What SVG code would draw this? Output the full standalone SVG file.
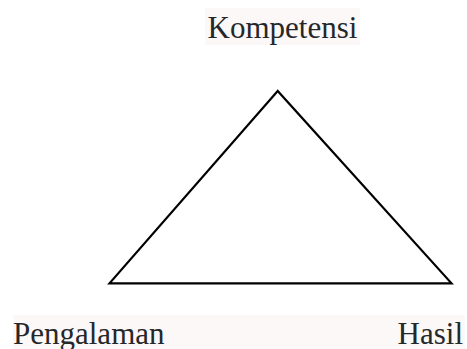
<svg xmlns="http://www.w3.org/2000/svg" width="467" height="349" viewBox="0 0 467 349">
<style>
.lbl{font-family:"Liberation Serif","Times New Roman",serif;font-size:31px;fill:#25282b}
.bg{fill:#fdf8f8}
</style>
<rect width="467" height="349" fill="#ffffff"/>
<g id="connectors">
<polygon points="277.7,91 109.5,283.3 451.5,283.3" fill="none" stroke="#000" stroke-width="2.2" stroke-linejoin="miter"/>
</g>
<g id="kompetensi">
<rect class="bg" x="205" y="8" width="155" height="37"/>
<text class="lbl" x="282.5" y="37.5" text-anchor="middle">Kompetensi</text>
</g>
<g id="pengalaman">
<rect class="bg" x="13" y="315" width="452" height="34"/>
<text class="lbl" x="13" y="344">Pengalaman</text>
</g>
<g id="hasil">
<text class="lbl" x="463" y="344" text-anchor="end">Hasil</text>
</g>
</svg>
